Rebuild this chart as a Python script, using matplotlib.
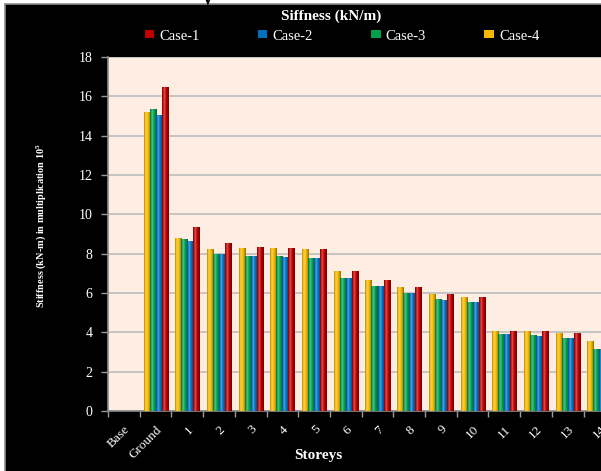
import numpy as np
import matplotlib
matplotlib.use("Agg")
import matplotlib.pyplot as plt
from matplotlib.patches import Rectangle
from matplotlib.colors import to_rgb

# storey stiffness (kN/m, x 10^5)
storeys = ["Base", "Ground", "1", "2", "3", "4", "5", "6", "7", "8",
           "9", "10", "11", "12", "13", "14"]
case1 = [0, 16.46, 9.37, 8.52, 8.35, 8.29, 8.22, 7.10, 6.64, 6.31,
         5.93, 5.82, 4.09, 4.06, 3.96, 3.58]
case2 = [0, 15.05, 8.64, 8.00, 7.86, 7.83, 7.79, 6.76, 6.34, 6.00,
         5.66, 5.53, 3.92, 3.82, 3.69, 3.15]
case3 = [0, 15.34, 8.74, 8.00, 7.86, 7.86, 7.79, 6.76, 6.34, 6.02,
         5.68, 5.55, 3.92, 3.85, 3.72, 3.16]
case4 = [0, 15.22, 8.78, 8.24, 8.29, 8.29, 8.22, 7.10, 6.64, 6.31,
         5.93, 5.82, 4.09, 4.06, 3.96, 3.58]

c_red, c_blue, c_green, c_yellow = "#C00000", "#0070C0", "#00A050", "#F5B800"

plt.rcParams['font.family'] = ['Liberation Serif', 'DejaVu Serif']
plt.rcParams['mathtext.default'] = 'regular'

fig = plt.figure(figsize=(6.01, 4.71), dpi=100, facecolor="white")

# black chart frame
fig.patches.append(Rectangle((5 / 601, -0.1), 1.2, 1.1 - 4 / 471,
                             transform=fig.transFigure, facecolor="black",
                             edgecolor="#8C8C8C", lw=1.2, zorder=-5))
fig.text(0.345, 1.0, "y", color="black", fontsize=14, fontweight="bold",
         ha="center", va="center")

ax = fig.add_axes([108 / 601, 1 - 411 / 471, 539 / 601, 354 / 471])
ax.set_facecolor("#FDEDE2")

x = np.arange(len(storeys))
w = 0.19


def shade(rect, color):
    # cylinder-like shading across the bar width
    h = rect.get_height()
    if h <= 0:
        return
    t = np.linspace(0, 1, 24)
    f = np.interp(t, [0, 0.3, 0.6, 1], [0.72, 1.35, 1.0, 0.62])
    base = np.array(to_rgb(color))
    cols = []
    for v in f:
        if v >= 1:
            cols.append(base + (1 - base) * (v - 1))
        else:
            cols.append(base * v)
    img = np.clip(np.array(cols), 0, 1)[None, :, :]
    im = ax.imshow(img, extent=[rect.get_x(), rect.get_x() + rect.get_width(), 0, h],
                   aspect="auto", zorder=3, interpolation="bilinear")
    im.set_clip_path(rect)


series = [(case4, c_yellow, "Case-4", -1.5), (case3, c_green, "Case-3", -0.5),
          (case2, c_blue, "Case-2", 0.5), (case1, c_red, "Case-1", 1.5)]
handles = {}
for vals, col, lab, k in series:
    bars = ax.bar(x + k * w, vals, w, color=col, label=lab, zorder=2, lw=0)
    handles[lab] = bars
    for r in bars:
        shade(r, col)

ax.set_xlim(-0.5, len(storeys) + 0.5)
ax.set_ylim(0, 18)
ax.set_yticks(np.arange(0, 19, 2))
ax.yaxis.grid(True, color="#BDBDBD", lw=1.2, zorder=1)
ax.set_axisbelow(True)

ax.set_xticks(x)
ax.set_xticklabels(storeys, rotation=45, ha="right", va="top",
                   rotation_mode="anchor", color="white", fontsize=9.5)
ax.set_xticks(np.arange(len(storeys) + 1) - 0.5, minor=True)
ax.tick_params(axis="x", which="major", length=0, pad=9)
ax.tick_params(axis="x", which="minor", length=4, color="#9A9A9A", width=1)
ax.tick_params(axis="y", length=5, color="#9A9A9A", width=1,
               labelcolor="white", labelsize=10, pad=6)
for s in ["top", "right"]:
    ax.spines[s].set_visible(False)
for s in ["left", "bottom"]:
    ax.spines[s].set_color("#8C8C8C")
    ax.spines[s].set_linewidth(1.2)

fig.text(331 / 601, 1 - 16 / 471, "Siffness (kN/m)", color="white", fontsize=11,
         fontweight="bold", ha="center", va="center")
fig.text(318 / 601, 1 - 455 / 471, "Storeys", color="white", fontsize=11,
         fontweight="bold", ha="center", va="center")
fig.text(41 / 601, 1 - 226 / 471, "Stiffness (kN-m) in multiplication 10$^5$",
         color="white", fontsize=7.4, fontweight="bold", rotation=90,
         ha="center", va="center")

order = ["Case-1", "Case-2", "Case-3", "Case-4"]
leg = fig.legend([handles[k] for k in order], order, ncol=4, frameon=False,
                 loc="center", bbox_to_anchor=(342 / 601, 1 - 36 / 471),
                 fontsize=10.5, handlelength=0.65, handleheight=0.45,
                 handletextpad=0.35, columnspacing=4.0)
for t in leg.get_texts():
    t.set_color("white")

fig.savefig("out.png", dpi=100, facecolor=fig.get_facecolor())
